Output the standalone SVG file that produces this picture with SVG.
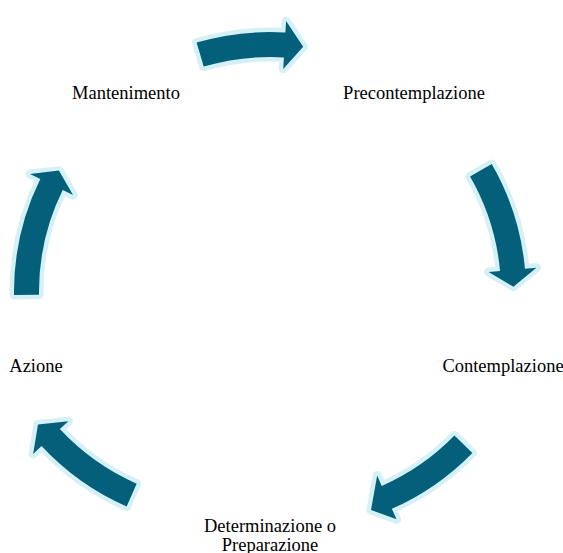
<svg xmlns="http://www.w3.org/2000/svg" width="563" height="553" viewBox="0 0 563 553">
  <style>
    .arrow { fill: #04607A; stroke: #D6F1F6; stroke-width: 9; stroke-linejoin: round; paint-order: stroke; }
    .lbl { font-family: "Liberation Serif", "Times New Roman", serif; font-size: 18.5px; fill: #000; text-anchor: middle; }
  </style>
  <rect width="563" height="553" fill="#FFFFFF"/>
  <g id="connectors">
    <path id="arrow-top" class="arrow" d="M196.6,42.6 A260,260 0 0 1 285.4,32.5 L286.1,21.0 L303.2,46.7 L283.25,68.9 L283.9,57.4 A235,235 0 0 0 203.7,66.6 Z"/>
    <path id="arrow-right" class="arrow" d="M491.7,164 A256,256 0 0 1 524.95,268.8 L536.4,267.8 L513.4,286.7 L488.6,272.1 L500.05,271.1 A231,231 0 0 0 470.05,176.5 Z"/>
    <path id="arrow-lowright" class="arrow" d="M472.35,452.95 A257.5,257.5 0 0 1 391.85,508.85 L396.55,519.35 L371,510 L377.15,475.45 L381.75,485.95 A232.5,232.5 0 0 0 454.45,435.55 Z"/>
    <path id="arrow-lowleft" class="arrow" d="M126.65,506.55 A257.5,257.5 0 0 1 41.55,446.05 L33.15,453.95 L38,424.5 L68.35,421.25 L59.85,429.05 A232.5,232.5 0 0 0 136.65,483.65 Z"/>
    <path id="arrow-upleft" class="arrow" d="M14,295.1 A256,256 0 0 1 40.3,179.0 L30.0,173.9 L58.9,170.6 L73.05,195.1 L62.7,190.0 A231,231 0 0 0 39,294.8 Z"/>
  </g>
  <g id="node-precontemplazione"><text class="lbl" x="414" y="99">Precontemplazione</text></g>
  <g id="node-contemplazione"><text class="lbl" x="503" y="372">Contemplazione</text></g>
  <g id="node-determinazione"><text class="lbl" x="270" y="532">Determinazione o</text><text class="lbl" x="270" y="551">Preparazione</text></g>
  <g id="node-azione"><text class="lbl" x="36" y="372">Azione</text></g>
  <g id="node-mantenimento"><text class="lbl" x="126" y="99">Mantenimento</text></g>
</svg>
